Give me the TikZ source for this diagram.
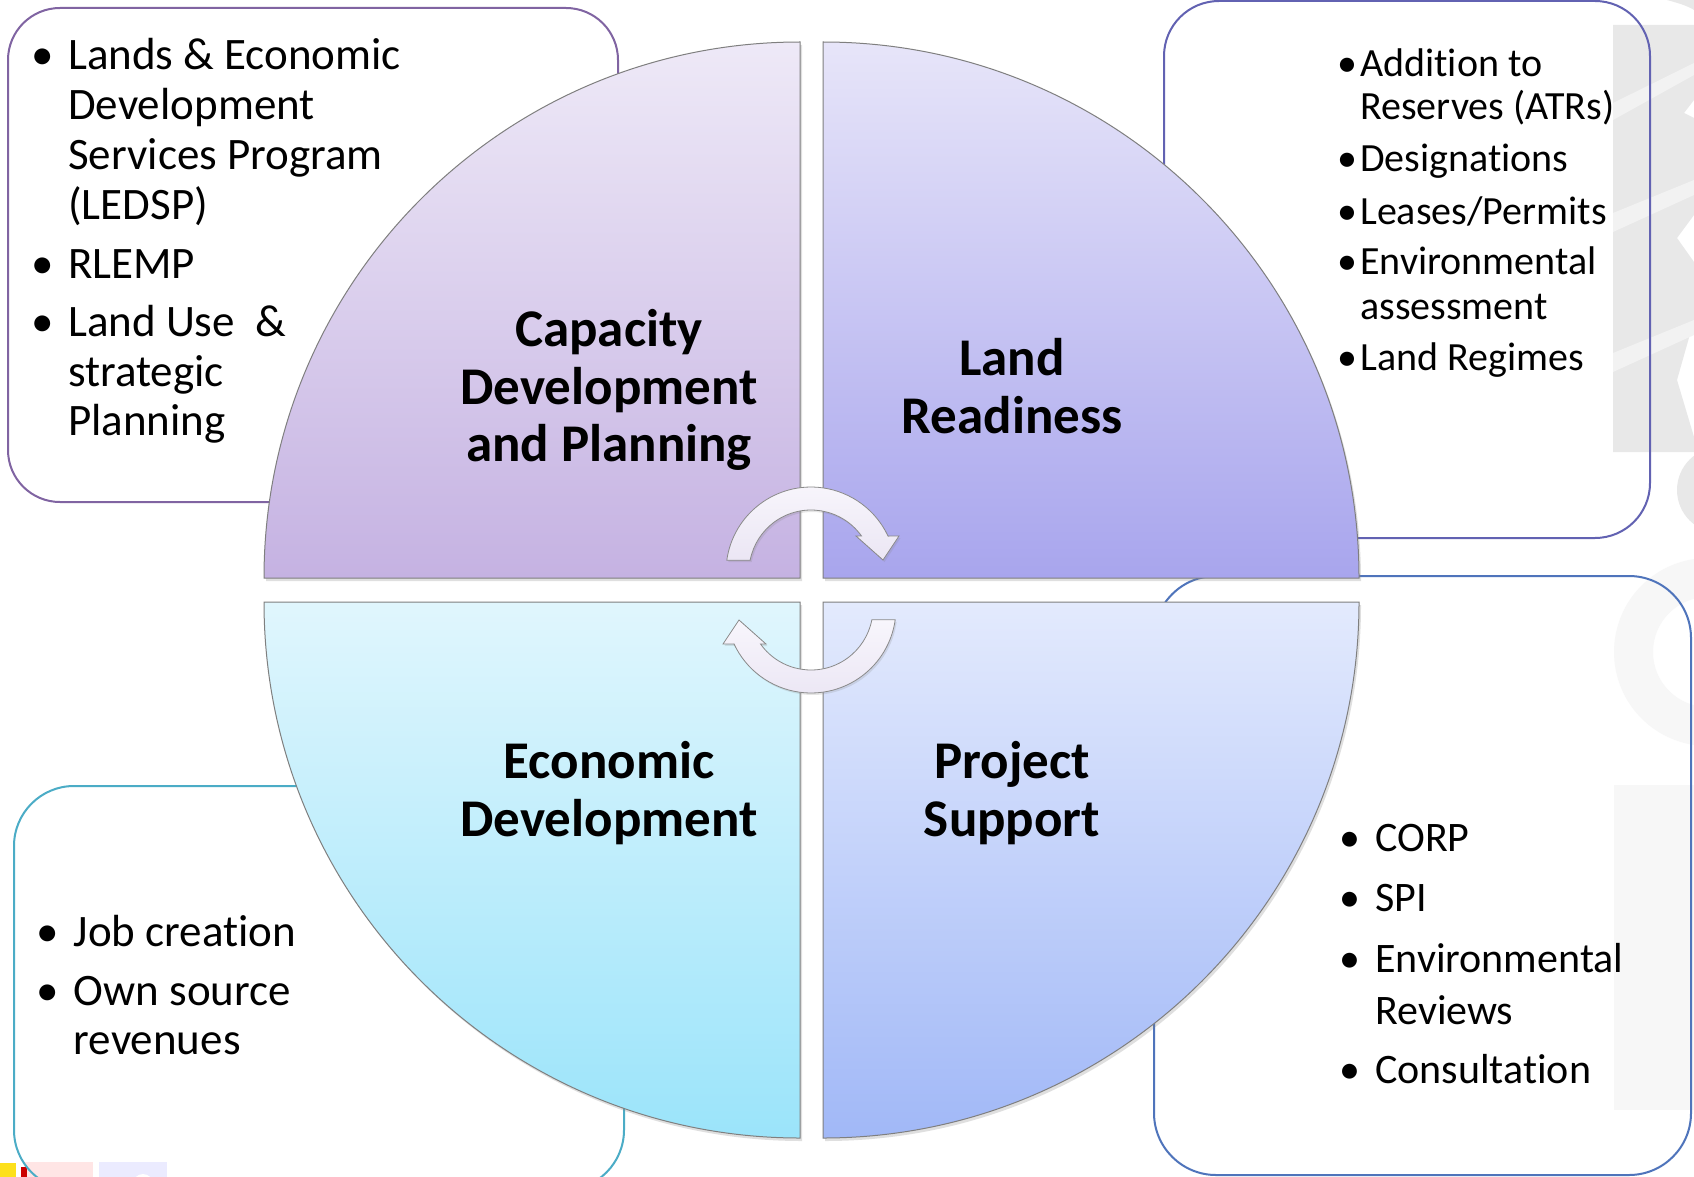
\documentclass[tikz,border=0pt]{standalone}
\usepackage{fontspec}
\setmainfont{Carlito}[Ligatures={NoCommon}]
\usetikzlibrary{shadows}
\definecolor{qline}{HTML}{7F7F7F}
\definecolor{tltop}{HTML}{EEE9F7}\definecolor{tlbot}{HTML}{C5B2E2}
\definecolor{trtop}{HTML}{E7E5F9}\definecolor{trbot}{HTML}{A8A5ED}
\definecolor{bltop}{HTML}{E0F6FD}\definecolor{blbot}{HTML}{9BE4FA}
\definecolor{brtop}{HTML}{E3EAFD}\definecolor{brbot}{HTML}{A1B8F7}
\definecolor{tlb}{HTML}{8064A2}\definecolor{trb}{HTML}{6262B2}
\definecolor{brb}{HTML}{4F74BB}\definecolor{blb}{HTML}{4BACC6}
\definecolor{arrtop}{HTML}{F8F6FC}\definecolor{arrbot}{HTML}{EBE6F4}
\definecolor{arrline}{HTML}{8A8A8A}
\definecolor{wmA}{HTML}{E8E8E8}\definecolor{wmL}{HTML}{F2F2F2}\definecolor{wmB}{HTML}{F7F7F7}
\begin{document}
\begin{tikzpicture}[x=1pt,y=1pt,
  quad/.style={draw=qline, line width=1pt,
    drop shadow={opacity=0.25, shadow xshift=2pt, shadow yshift=-3pt}},
  arr/.style={draw=arrline, line width=0.8pt, top color=arrtop, bottom color=arrbot,
    drop shadow={opacity=0.2, shadow xshift=1.5pt, shadow yshift=-2pt}},
  boxline/.style={line width=2pt, rounded corners=#1},
  ftl/.style={inner sep=0pt, anchor=base west, font=\fontsize{45}{54}\selectfont},
  ftr/.style={inner sep=0pt, anchor=base west, font=\fontsize{40}{48}\selectfont},
  fbr/.style={inner sep=0pt, anchor=base west, font=\fontsize{42}{50}\selectfont},
  btl/.style={inner sep=0pt, anchor=base, font=\fontsize{45}{54}\selectfont},
  btr/.style={inner sep=0pt, anchor=base, font=\fontsize{40}{48}\selectfont},
  bbr/.style={inner sep=0pt, anchor=base, font=\fontsize{42}{50}\selectfont},
  lbl/.style={inner sep=0pt, anchor=base, font=\fontsize{53}{60}\selectfont\bfseries},
]
\useasboundingbox (0,0) rectangle (1694,-1177);
\fill[white] (0,0) rectangle (1694,-1177);

% faint watermark at the right edge
\fill[wmA] (1667,0) .. controls (1678,-3) and (1688,-6) .. (1694,-10) -- (1694,0) -- cycle;
\fill[wmA] (1613,-25) -- (1694,-25) -- (1694,-100) -- (1684,-113) -- (1694,-118)
  -- (1694,-215) -- (1677,-238) -- (1694,-262)
  -- (1694,-320) -- (1677,-380) -- (1694,-437)
  -- (1694,-452) -- (1613,-452) -- cycle;
\fill[wmL] (1613,-103) -- (1694,-63) -- (1694,-75) -- (1613,-120) -- cycle;
\fill[wmL] (1613,-213) -- (1694,-180) -- (1694,-195) -- (1613,-232) -- cycle;
\fill[wmL] (1613,-353) -- (1694,-320) -- (1694,-335) -- (1613,-372) -- cycle;
\fill[wmA] (1720,-490) circle[radius=43];
\fill[wmB, even odd rule] (1708,-652) circle[radius=94] (1708,-652) circle[radius=55];
\fill[wmB] (1614,-785) rectangle (1694,-1110);

% logo fragments bottom left
\fill[yellow!80!orange!90!white] (0,-1163) rectangle (16,-1177);
\fill[red!10] (24,-1162) rectangle (93,-1177);
\fill[red!80!black] (21,-1167) rectangle (27,-1177);
\fill[blue!8] (99,-1162) rectangle (167,-1177);
\fill[white] (143,-1184) circle[radius=10];

% outer boxes
\draw[boxline=52, draw=tlb] (8,-8) rectangle (618,-502);
\draw[boxline=55, draw=trb] (1164,-1) rectangle (1650,-538);
\draw[boxline=62, draw=brb] (1154,-576) rectangle (1691,-1175);
\draw[boxline=60, draw=blb] (14,-786) rectangle (624,-1190);

% quadrants
\path[quad, top color=tltop, bottom color=tlbot]
  (800,-578) -- (264,-578) arc[start angle=180, end angle=90, radius=536] -- cycle;
\path[quad, top color=trtop, bottom color=trbot]
  (823,-578) -- (823,-42) arc[start angle=90, end angle=0, radius=536] -- cycle;
\path[quad, top color=bltop, bottom color=blbot]
  (800,-602) -- (800,-1138) arc[start angle=270, end angle=180, radius=536] -- cycle;
\path[quad, top color=brtop, bottom color=brbot]
  (823,-602) -- (1359,-602) arc[start angle=0, end angle=-90, radius=536] -- cycle;

% circular arrows
\path[arr] (726.8,-560.2) arc[start angle=172, end angle=25, radius=85]
  -- (899,-536) -- (883,-560) -- (856,-536) -- (861.5,-536)
  arc[start angle=35.5, end angle=169, radius=62] -- cycle;
\path[arr] (895.2,-619.8) arc[start angle=352, end angle=205, radius=85]
  -- (723,-644) -- (739,-620) -- (766,-644) -- (760.5,-644)
  arc[start angle=215.5, end angle=349, radius=62] -- cycle;

% quadrant labels
\node[lbl] (cap1) at (609,-346) {Capacity};
\node[lbl] (cap2) at (609,-404) {Development};
\node[lbl] (cap3) at (609,-461) {and Planning};
\node[lbl] (lr1) at (1012,-375) {Land};
\node[lbl] (lr2) at (1012,-433) {Readiness};
\node[lbl] (ed1) at (609,-778) {Economic};
\node[lbl] (ed2) at (609,-836) {Development};
\node[lbl] (ps1) at (1012,-778) {Project};
\node[lbl] (ps2) at (1012,-836) {Support};

% top left box text
\node[btl] (tlb1) at (43,-70) {•};
\node[ftl] (tl1) at (68,-70) {Lands \& Economic};
\node[ftl] (tl2) at (68,-120) {Development};
\node[ftl] (tl3) at (68,-170) {Services Program};
\node[ftl] (tl4) at (68,-219) {(LEDSP)};
\node[btl] (tlb2) at (43,-278) {•};
\node[ftl] (tl5) at (68,-278) {RLEMP};
\node[btl] (tlb3) at (43,-336) {•};
\node[ftl] (tl6) at (68,-336) {Land Use\ \ \&};
\node[ftl] (tl7) at (68,-386) {strategic};
\node[ftl] (tl8) at (68,-435) {Planning};

% top right box text
\node[btr] (trb1) at (1347,-77) {•};
\node[ftr] (tr1) at (1360,-77) {Addition to};
\node[ftr] (tr2) at (1360,-120) {Reserves (ATRs)};
\node[btr] (trb2) at (1347,-172) {•};
\node[ftr] (tr3) at (1360,-172) {Designations};
\node[btr] (trb3) at (1347,-224) {•};
\node[ftr] (tr4) at (1360,-224) {Leases/Permits};
\node[btr] (trb4) at (1347,-274) {•};
\node[ftr] (tr5) at (1360,-274) {Environmental};
\node[ftr] (tr6) at (1360,-319) {assessment};
\node[btr] (trb5) at (1347,-370) {•};
\node[ftr] (tr7) at (1360,-370) {Land Regimes};

% bottom left box text
\node[btl] (blb1) at (47.5,-946) {•};
\node[ftl] (bl1) at (73.5,-946) {Job creation};
\node[btl] (blb2) at (47.5,-1005) {•};
\node[ftl] (bl2) at (73.5,-1005) {Own source};
\node[ftl] (bl3) at (73.5,-1054) {revenues};

% bottom right box text
\node[bbr] (brb1) at (1350,-851) {•};
\node[fbr] (br1) at (1375,-851) {CORP};
\node[bbr] (brb2) at (1350,-911) {•};
\node[fbr] (br2) at (1375,-911) {SPI};
\node[bbr] (brb3) at (1350,-972) {•};
\node[fbr] (br3) at (1375,-972) {Environmental};
\node[fbr] (br4) at (1375,-1024) {Reviews};
\node[bbr] (brb4) at (1350,-1083) {•};
\node[fbr] (br5) at (1375,-1083) {Consultation};
\end{tikzpicture}
\end{document}
